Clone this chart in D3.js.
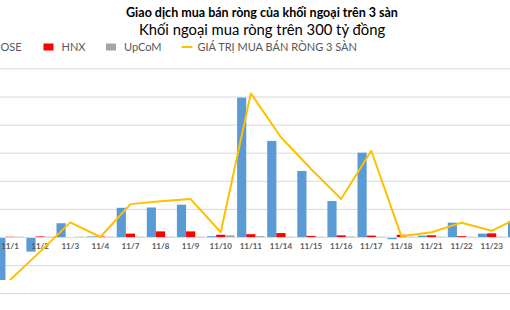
<!DOCTYPE html>
<html>
<head>
<meta charset="utf-8">
<script src="https://cdn.jsdelivr.net/npm/d3@7"></script>
<style>
  body { margin: 0; background: #fff; overflow: hidden; }
  text { font-family: Lato, "Open Sans", sans-serif; }
</style>
</head>
<body>
<div id="chart"></div>
<script>
// Data (tỷ đồng)
var days = ["11/1", "11/2", "11/3", "11/4", "11/7", "11/8", "11/9", "11/10", "11/11",
            "11/14", "11/15", "11/16", "11/17", "11/18", "11/21", "11/22", "11/23", "11/24"];
var hose  = [-306, -104, 98, 4, 208, 210, 230, 6, 992, 684, 470, 256, 600, -16, 10, 102, 24, 114];
var hnx   = [2, 4, -2, 4, 24, 40, 40, 16, 20, 28, 8, 12, 10, 16, 12, 6, 26, 4];
var upcom = [2, 2, 2, 2, 2, 2, 2, 12, 6, 2, 2, 4, 2, 2, 2, 2, 2, 2];
var total = [-306, -104, 104, 0, 234, 254, 270, 34, 1022, 710, 484, 270, 614, 6, 34, 102, 44, 148];
var gridTicks = [-600, -400, -200, 0, 200, 400, 600, 800, 1000, 1200];

var seriesNames = ["HOSE", "HNX", "UpCoM"];
var colors = {HOSE: "#5B9BD5", HNX: "#FF0000", UpCoM: "#A5A5A5"};

var width = 510, height = 310;

var svg = d3.select("#chart").append("svg")
    .attr("width", width)
    .attr("height", height);

// scales
var x0 = d3.scaleBand().domain(days).range([-5, -5 + days.length * 30.1]);
var x1 = d3.scaleBand().domain(seriesNames).range([1.3, 28.8]);
var y = d3.scaleLinear().domain([-600, 1200]).range([321.3, 68.4]);

// gridlines
svg.append("g")
    .attr("transform", "translate(-20,0)")
    .call(d3.axisLeft(y).tickValues(gridTicks).tickSize(-580).tickFormat(""))
    .call(g => g.select(".domain").remove())
    .call(g => g.selectAll(".tick line").attr("stroke", "#d9d9d9"));

// bars
var rows = days.map(function(d, i) {
    return {day: d, HOSE: hose[i], HNX: hnx[i], UpCoM: upcom[i]};
});

var groups = svg.append("g").selectAll("g")
    .data(rows)
  .enter().append("g")
    .attr("transform", function(d) { return "translate(" + x0(d.day) + ",0)"; });

groups.selectAll("rect")
    .data(function(d) { return seriesNames.map(function(k) { return {key: k, value: d[k]}; }); })
  .enter().append("rect")
    .attr("x", function(d) { return x1(d.key); })
    .attr("width", x1.bandwidth())
    .attr("y", function(d) { return y(Math.max(0, d.value)); })
    .attr("height", function(d) { return Math.abs(y(d.value) - y(0)); })
    .attr("fill", function(d) { return colors[d.key]; });

// category axis at zero
var xAxis = svg.append("g")
    .attr("transform", "translate(0," + y(0) + ")")
    .call(d3.axisBottom(x0).tickSize(0).tickPadding(6));
xAxis.select(".domain").attr("stroke", "#d9d9d9");
xAxis.selectAll("text")
    .style("font-family", "Lato, sans-serif")
    .style("font-size", "8px")
    .style("font-weight", "bold")
    .attr("fill", "#595959");

// total line
var line = d3.line()
    .x(function(d, i) { return x0(days[i]) + x0.bandwidth() / 2; })
    .y(function(d) { return y(d); });

svg.append("path")
    .datum(total)
    .attr("fill", "none")
    .attr("stroke", "#FFC000")
    .attr("stroke-width", 2)
    .attr("stroke-linejoin", "round")
    .attr("d", line);

// titles
svg.append("text")
    .attr("x", 262)
    .attr("y", 17)
    .attr("text-anchor", "middle")
    .style("font-size", "12.5px")
    .style("font-weight", "bold")
    .attr("fill", "#000")
    .text("Giao dịch mua bán ròng của khối ngoại trên 3 sàn");

svg.append("text")
    .attr("x", 262)
    .attr("y", 35)
    .attr("text-anchor", "middle")
    .style("font-size", "14.8px")
    .attr("fill", "#000")
    .text("Khối ngoại mua ròng trên 300 tỷ đồng");

// legend
var legendItems = [
    {name: "HOSE", type: "rect", color: colors.HOSE, x: -26},
    {name: "HNX", type: "rect", color: colors.HNX, x: 43.5},
    {name: "UpCoM", type: "rect", color: colors.UpCoM, x: 106},
    {name: "GIÁ TRỊ MUA BÁN RÒNG 3 SÀN", type: "line", color: "#FFC000", x: 181.5}
];

var legend = svg.append("g").selectAll("g")
    .data(legendItems)
  .enter().append("g")
    .attr("transform", function(d) { return "translate(" + d.x + ",47)"; });

legend.filter(function(d) { return d.type === "rect"; })
    .append("rect")
    .attr("y", -3.5)
    .attr("width", 10)
    .attr("height", 7)
    .attr("fill", function(d) { return d.color; });

legend.filter(function(d) { return d.type === "line"; })
    .append("line")
    .attr("x1", 0)
    .attr("x2", 11)
    .attr("stroke", function(d) { return d.color; })
    .attr("stroke-width", 2);

legend.append("text")
    .attr("x", function(d) { return d.type === "line" ? 16 : 18; })
    .attr("dy", "0.35em")
    .style("font-size", "11px")
    .attr("fill", "#595959")
    .text(function(d) { return d.name; });
</script>
</body>
</html>
